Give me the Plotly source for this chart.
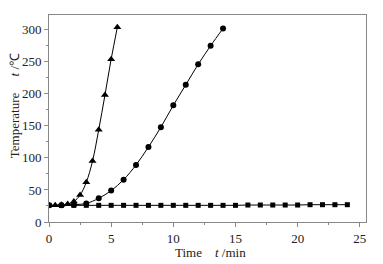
import plotly.graph_objects as go

tri_x = [0, 0.5, 1, 1.5, 2, 2.5, 3, 3.5, 4, 4.5, 5, 5.5]
tri_y = [26, 26, 27, 28, 32, 42, 62, 95, 144, 198, 254, 304]

cir_x = [0, 1, 2, 3, 4, 5, 6, 7, 8, 9, 10, 11, 12, 13, 14]
cir_y = [26, 26, 27, 29, 37, 49, 66, 89, 117, 148, 182, 214, 246, 275, 302]

sq_x = list(range(0, 25))
sq_y = [26, 26, 26, 26, 26, 26, 26, 26, 26, 26, 26, 26, 26, 26, 26, 26,
        26.5, 26.5, 26.5, 26.5, 26.5, 27, 27, 27, 27]

fig = go.Figure()
common = dict(mode="lines+markers", line=dict(color="black", width=1, shape="spline"))
fig.add_trace(go.Scatter(x=sq_x, y=sq_y, marker=dict(symbol="square", size=5, color="black"), **common))
fig.add_trace(go.Scatter(x=cir_x, y=cir_y, marker=dict(symbol="circle", size=6, color="black"), **common))
fig.add_trace(go.Scatter(x=tri_x, y=tri_y, marker=dict(symbol="triangle-up", size=7, color="black"), **common))

font = dict(family="Liberation Serif, Times New Roman, serif", size=13, color="#222222")
axis_common = dict(showline=True, linecolor="#888888", linewidth=1, mirror=True,
                   ticks="outside", ticklen=4, tickcolor="#888888", showgrid=False,
                   zeroline=False, tickfont=font, color="#222222")
fig.update_xaxes(range=[0, 25.5], tick0=0, dtick=5,
                 minor=dict(ticks="outside", ticklen=2, dtick=2.5, tickcolor="#888888"),
                 **axis_common)
fig.update_yaxes(range=[0, 323], tick0=0, dtick=50,
                 minor=dict(ticks="outside", ticklen=2, dtick=25, tickcolor="#888888"),
                 **axis_common)
fig.update_layout(
    template="none",
    width=383, height=264, margin=dict(l=49, r=17, t=15, b=42),
    plot_bgcolor="white", paper_bgcolor="white", showlegend=False, font=font,
    annotations=[
        dict(text="Time&nbsp;&nbsp;&nbsp;&nbsp;<i>t</i> /min", xref="paper", yref="paper",
             x=0.508, y=-0.145, xanchor="center", yanchor="middle", showarrow=False, font=font),
        dict(text="Temperature&nbsp;&nbsp;&nbsp;&nbsp;&nbsp;<i>t</i> /℃", xref="paper", yref="paper",
             x=-0.11, y=0.56, xanchor="center", yanchor="middle", textangle=-90,
             showarrow=False, font=font),
    ],
)
fig.write_html("out.html", config={"displayModeBar": False},
               post_script="document.body.style.margin='0';")
